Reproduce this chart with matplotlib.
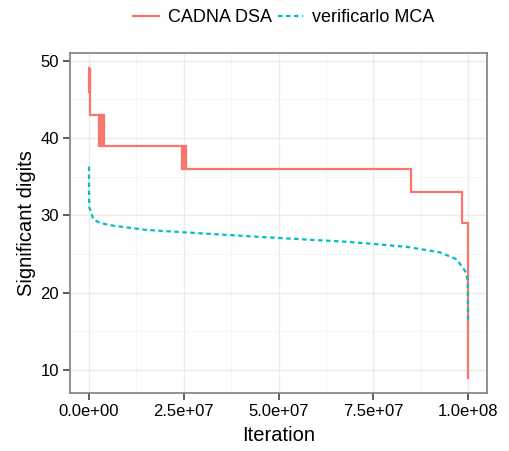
import numpy as np
import matplotlib
matplotlib.use("Agg")
import matplotlib.pyplot as plt
from matplotlib.ticker import FixedLocator, FixedFormatter

plt.rcParams["font.family"] = ["Liberation Sans", "DejaVu Sans"]

# ---------------- DATA ----------------
# CADNA DSA: step function (iteration where a value starts, value)
cadna_iter = [0, 1e5, 2e5, 3e5, 4e5,
              2.7e6, 3.0e6, 3.3e6, 3.6e6, 3.9e6,
              2.45e7, 2.5e7, 2.55e7, 2.6e7,
              8.5e7, 9.85e7, 9.99e7, 1e8]
cadna_vals = [49, 46, 49, 46, 43,
              39, 43, 39, 43, 39,
              36, 39, 36, 36,
              33, 29, 26, 9]

# verificarlo MCA
mca_iter = [0, 1e4, 1e5, 5e5, 1.1e6, 2.9e6, 6.4e6, 1.52e7, 2.5e7, 3.5e7,
            5.0e7, 6.7e7, 7.5e7, 8.4e7, 9.26e7, 9.7e7, 9.92e7, 9.99e7, 1e8]
mca_vals = [36.3, 33.0, 31.0, 30.5, 29.5, 29.0, 28.65, 28.1, 27.8, 27.5,
            27.06, 26.6, 26.3, 25.9, 25.2, 24.3, 22.8, 21.7, 16.5]

x_ticks = [0, 2.5e7, 5.0e7, 7.5e7, 1.0e8]
x_tick_labels = ["0.0e+00", "2.5e+07", "5.0e+07", "7.5e+07", "1.0e+08"]
y_ticks = [10, 20, 30, 40, 50]
# --------------------------------------

RED = "#F8766D"
CYAN = "#00BFC4"

fig = plt.figure(figsize=(5.09, 4.51), dpi=100)
ax = fig.add_axes([70 / 509, 1 - 393 / 451, (487 - 70) / 509, (393 - 53) / 451])

ax.step(cadna_iter, cadna_vals, where="post", color=RED, lw=1.6,
        label="CADNA DSA", solid_joinstyle="miter")
ax.plot(mca_iter, mca_vals, color=CYAN, lw=1.6, dashes=(2, 1.6),
        label="verificarlo MCA")

ax.set_xlim(-0.05e8, 1.05e8)
ax.set_ylim(7, 51)

# grid like theme_bw
ax.xaxis.set_major_locator(FixedLocator(x_ticks))
ax.xaxis.set_major_formatter(FixedFormatter(x_tick_labels))
ax.xaxis.set_minor_locator(FixedLocator([1.25e7, 3.75e7, 6.25e7, 8.75e7]))
ax.yaxis.set_major_locator(FixedLocator(y_ticks))
ax.yaxis.set_minor_locator(FixedLocator([15, 25, 35, 45]))
ax.grid(True, which="major", color="#EBEBEB", lw=1.0)
ax.grid(True, which="minor", color="#F5F5F5", lw=0.8)
ax.set_axisbelow(True)

for s in ax.spines.values():
    s.set_color("#7F7F7F")
    s.set_linewidth(1.2)

ax.tick_params(which="major", length=5, width=1.1, color="#333333",
               labelsize=12, labelcolor="black", pad=3)
ax.tick_params(which="minor", length=0)

ax.set_xlabel("Iteration", fontsize=14.5, labelpad=5)
ax.set_ylabel("Significant digits", fontsize=14.5, labelpad=3)

fig.legend(loc="upper center", bbox_to_anchor=(284 / 509, 1.015), ncol=2,
           frameon=False, fontsize=13, handlelength=1.4, columnspacing=0.35,
           handletextpad=0.5)

fig.savefig("out.png", dpi=100)
